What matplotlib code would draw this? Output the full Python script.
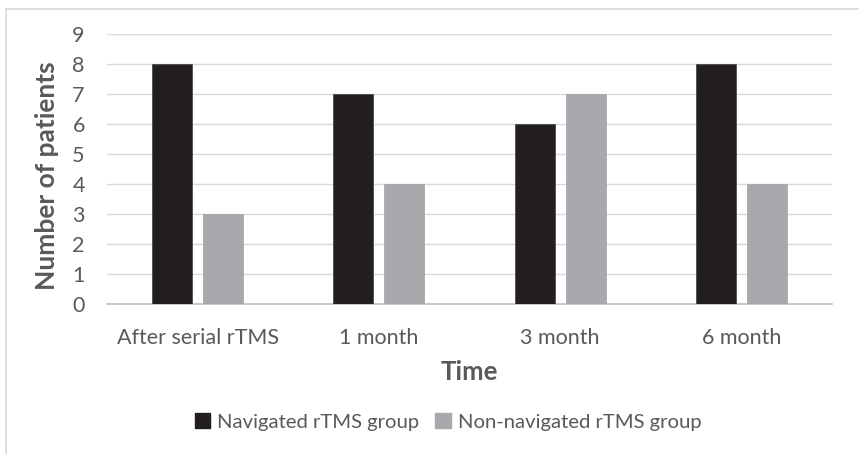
import matplotlib.pyplot as plt
import numpy as np
from matplotlib.lines import Line2D
from matplotlib.patches import Patch

# patient counts per follow-up time point
timepoints = ["After serial rTMS", "1 month", "3 month", "6 month"]
navigated = [8, 7, 6, 8]
non_navigated = [3, 4, 7, 4]
series_names = ["Navigated rTMS group", "Non-navigated rTMS group"]

DARK = "#231f20"
LIGHT = "#a7a9ac"
TEXT = "#595959"
GRID = "#d9d9d9"

plt.rcParams["font.family"] = ["Lato", "DejaVu Sans"]

fig = plt.figure(figsize=(8.59, 4.54), dpi=100)
ax = fig.add_axes([107 / 859, 1 - 304 / 454, 725 / 859, 270 / 454])

x = np.arange(len(timepoints))
w = 0.22
off = 0.141
ax.bar(x - off, navigated, w, color=DARK, edgecolor="#4d4d4f", linewidth=0.6, zorder=3)
ax.bar(x + off, non_navigated, w, color=LIGHT, edgecolor=LIGHT, linewidth=0.6, zorder=3)

ax.set_xlim(-0.5, len(timepoints) - 0.5)
ax.set_ylim(0, 9)
ax.set_yticks(range(0, 10))
ax.set_xticks(x)
ax.set_xticklabels(timepoints)
ax.tick_params(axis="both", length=0, labelsize=15.5, colors=TEXT)
ax.tick_params(axis="y", pad=16)
ax.tick_params(axis="x", pad=17)
ax.grid(axis="y", color=GRID, linewidth=1.0, zorder=0)
for s in ["top", "right", "left"]:
    ax.spines[s].set_visible(False)
ax.spines["bottom"].set_color("#bfbfbf")
ax.spines["bottom"].set_linewidth(1.2)

ax.set_xlabel("Time", fontsize=18.5, fontweight="bold", color=TEXT, labelpad=9)
fig.text(47.5 / 859, 1 - 176 / 454, "Number of patients", rotation=90,
         ha="center", va="center", fontsize=19, fontweight="bold", color=TEXT)

handles = [Patch(facecolor=DARK, edgecolor=DARK), Patch(facecolor=LIGHT, edgecolor=LIGHT)]
fig.legend(handles, series_names, loc="center", bbox_to_anchor=(448 / 859, 1 - 422 / 454),
           ncol=2, frameon=False, fontsize=14.6, labelcolor=TEXT,
           handlelength=0.75, handleheight=0.75, handletextpad=0.35, columnspacing=0.8)

# outer chart frame (top and left edges)
fig.add_artist(Line2D([6 / 859, 1], [1 - 9 / 454, 1 - 9 / 454], color=GRID, linewidth=1.2))
fig.add_artist(Line2D([6 / 859, 6 / 859], [0, 1 - 9 / 454], color=GRID, linewidth=1.2))

fig.savefig("out.png", dpi=100)
